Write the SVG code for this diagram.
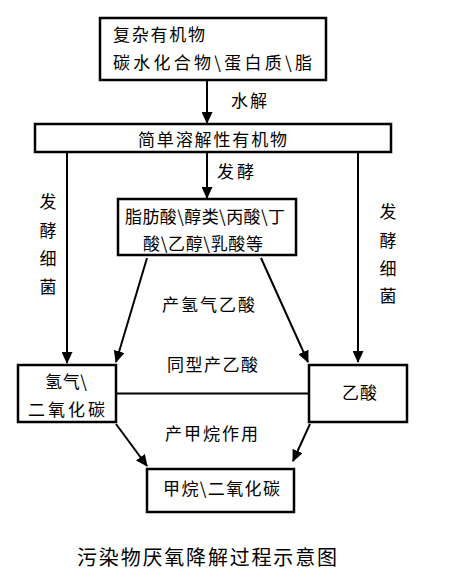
<svg xmlns="http://www.w3.org/2000/svg" width="449" height="578" viewBox="0 0 449 578">
<style>
.box{fill:#fff;stroke:#000;stroke-width:2.5}
.ln{fill:none;stroke:#000;stroke-width:2}
.t{font-family:"Noto Sans CJK SC","Liberation Sans",sans-serif;font-size:17px;fill:#000}
.ttl{font-family:"Noto Sans CJK SC","Liberation Sans",sans-serif;font-size:20px;fill:#000}
.m{text-anchor:middle}
</style>
<defs>
<marker id="ah" markerUnits="userSpaceOnUse" markerWidth="12" markerHeight="11" refX="11" refY="5.5" orient="auto">
<path d="M0,0 L12,5.5 L0,11 z" fill="#000"/>
</marker>
</defs>
<rect width="449" height="578" fill="#fff"/>
<g id="connectors">
<line class="ln" x1="207" y1="81" x2="207" y2="123" marker-end="url(#ah)"/>
<line class="ln" x1="207" y1="153" x2="207" y2="198" marker-end="url(#ah)"/>
<line class="ln" x1="67" y1="153" x2="67" y2="363" marker-end="url(#ah)"/>
<line class="ln" x1="358" y1="153" x2="358" y2="362" marker-end="url(#ah)"/>
<line class="ln" x1="147" y1="258" x2="116" y2="362" marker-end="url(#ah)"/>
<line class="ln" x1="261" y1="258" x2="308" y2="362" marker-end="url(#ah)"/>
<line class="ln" x1="117" y1="393.5" x2="309" y2="393.5"/>
<line class="ln" x1="116" y1="424" x2="147" y2="466" marker-end="url(#ah)"/>
<line class="ln" x1="310" y1="424" x2="293" y2="461" marker-end="url(#ah)"/>
<text class="t" x="231" y="107" textLength="36">水解</text>
<text class="t" x="217" y="178" textLength="37">发酵</text>
<text class="t m" x="48" y="208">发</text>
<text class="t m" x="48" y="237">酵</text>
<text class="t m" x="48" y="265">细</text>
<text class="t m" x="48" y="293">菌</text>
<text class="t m" x="388" y="218">发</text>
<text class="t m" x="388" y="247">酵</text>
<text class="t m" x="388" y="275">细</text>
<text class="t m" x="388" y="302">菌</text>
<text class="t" x="162" y="311" textLength="93">产氢气乙酸</text>
<text class="t" x="167" y="371" textLength="91">同型产乙酸</text>
<text class="t" x="165" y="440" textLength="93">产甲烷作用</text>
</g>
<g id="n1">
<rect class="box" x="100" y="18" width="226" height="62"/>
<text class="t" x="113" y="41" textLength="92">复杂有机物</text>
<text class="t" x="113" y="69" textLength="199">碳水化合物\蛋白质\脂</text>
</g>
<g id="n2">
<rect class="box" x="35" y="124" width="356" height="28"/>
<text class="t" x="138" y="146" textLength="149">简单溶解性有机物</text>
</g>
<g id="n3">
<rect class="box" x="118" y="199" width="178" height="56"/>
<text class="t" x="125" y="223" textLength="160">脂肪酸\醇类\丙酸\丁</text>
<text class="t" x="143" y="250" textLength="120">酸\乙醇\乳酸等</text>
</g>
<g id="n4">
<rect class="box" x="18" y="365" width="98" height="57"/>
<text class="t" x="45" y="388" textLength="42">氢气\</text>
<text class="t" x="28" y="416" textLength="77">二氧化碳</text>
</g>
<g id="n5">
<rect class="box" x="309" y="365" width="98" height="57"/>
<text class="t" x="342" y="399" textLength="35">乙酸</text>
</g>
<g id="n6">
<rect class="box" x="147" y="469" width="147" height="43"/>
<text class="t" x="163" y="495" textLength="117">甲烷\二氧化碳</text>
</g>
<text class="ttl" x="77" y="565" textLength="260">污染物厌氧降解过程示意图</text>
</svg>
